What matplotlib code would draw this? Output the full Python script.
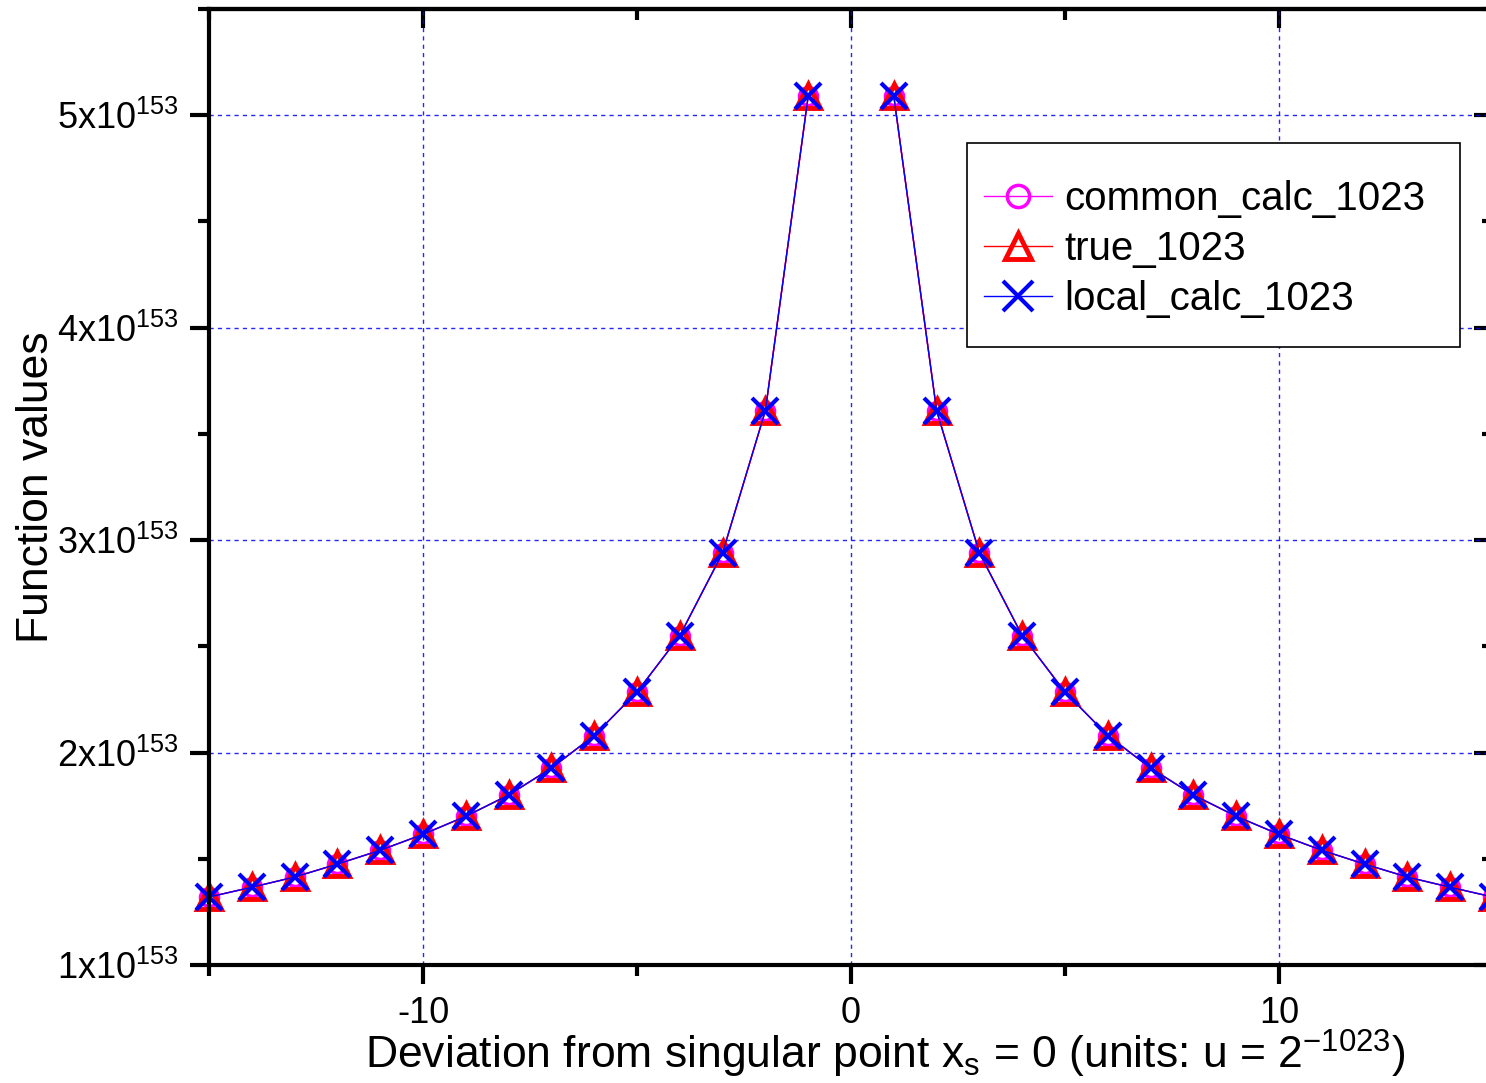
import matplotlib
matplotlib.use("Agg")
import matplotlib.pyplot as plt
from matplotlib.patches import Rectangle
from matplotlib.ticker import MultipleLocator, FuncFormatter

plt.rcParams['font.family'] = ['Liberation Sans', 'DejaVu Sans']
plt.rcParams['mathtext.default'] = 'regular'
plt.rcParams['axes.unicode_minus'] = False

# deviation from singular point (units of u = 2^-1023); no value at x = 0
dev = [-15, -14, -13, -12, -11, -10, -9, -8, -7, -6, -5, -4, -3, -2, -1, 0,
       1, 2, 3, 4, 5, 6, 7, 8, 9, 10, 11, 12, 13, 14, 15]

# function values in units of 1e153
nan = float('nan')
right_half = [5.09, 3.61, 2.94, 2.55, 2.285, 2.08, 1.927, 1.80, 1.70, 1.615,
              1.54, 1.475, 1.414, 1.366, 1.32]
common_calc_1023 = right_half[::-1] + [nan] + right_half
true_1023 = right_half[::-1] + [nan] + right_half
local_calc_1023 = right_half[::-1] + [nan] + right_half

fig = plt.figure(figsize=(14.86, 10.83), dpi=100)
W, H = 1486, 1083
ax = fig.add_axes([209 / W, 1 - 965 / H, (1493 - 209) / W, (965 - 9) / H])

ax.plot(dev, common_calc_1023, color='magenta', lw=1, marker='o', ms=13,
        mfc='none', mec='magenta', mew=2.5, label='common_calc_1023', clip_on=False)
ax.plot(dev, true_1023, color='red', lw=1, marker='^', ms=17,
        mfc='none', mec='red', mew=3.5, label='true_1023', clip_on=False)
ax.plot(dev, local_calc_1023, color='blue', lw=1, marker='x', ms=19,
        mew=3, label='local_calc_1023', clip_on=False)

ax.set_xlim(-15, 15)
ax.set_ylim(1, 5.5)
ax.xaxis.set_major_locator(MultipleLocator(10))
ax.xaxis.set_minor_locator(MultipleLocator(5))
ax.yaxis.set_major_locator(MultipleLocator(1))
ax.yaxis.set_minor_locator(MultipleLocator(0.5))
ax.yaxis.set_major_formatter(FuncFormatter(lambda v, p: '%dx10$^{153}$' % round(v)))

ax.grid(True, which='major', color='blue', lw=1, ls=(0, (3, 3)), alpha=0.85)

for s in ax.spines.values():
    s.set_linewidth(3)

ax.tick_params(axis='both', which='major', length=14, width=3, labelsize=26,
               direction='out', pad=8)
ax.tick_params(axis='both', which='minor', length=8, width=3, direction='out')

# mirrored inward ticks on top and right
axt = ax.secondary_xaxis('top')
axt.xaxis.set_major_locator(MultipleLocator(10))
axt.xaxis.set_minor_locator(MultipleLocator(5))
axt.tick_params(which='major', direction='in', length=14, width=3, labeltop=False)
axt.tick_params(which='minor', direction='in', length=8, width=3)
axr = ax.secondary_yaxis('right')
axr.yaxis.set_major_locator(MultipleLocator(1))
axr.yaxis.set_minor_locator(MultipleLocator(0.5))
axr.tick_params(which='major', direction='in', length=14, width=3, labelright=False)
axr.tick_params(which='minor', direction='in', length=8, width=3)
for a in (axt, axr):
    for s in a.spines.values():
        s.set_linewidth(3)

ax.set_xlabel('Deviation from singular point x$_{s}$ = 0 (units: u = 2$^{-1023}$)',
              fontsize=32)
ax.xaxis.set_label_coords(0.527, -0.066)
ax.set_ylabel('Function values', fontsize=32)
ax.yaxis.set_label_coords(-0.118, 0.5)

# legend frame drawn as a plain box, entries placed inside it
box = Rectangle((967 / W, 1 - 347 / H), (1460 - 967) / W, (347 - 143) / H,
                transform=fig.transFigure, facecolor='white', edgecolor='black',
                lw=1.2, zorder=4.5, clip_on=False)
ax.add_patch(box)
leg = ax.legend(loc='upper left', bbox_to_anchor=(984 / W, 1 - 180 / H),
                bbox_transform=fig.transFigure, borderaxespad=0, borderpad=0,
                frameon=False, fontsize=29, handlelength=1.7, handletextpad=0.3,
                labelspacing=0.3)
# legend symbols are a bit larger than the data markers
for h, ms in zip(leg.legend_handles, (16, 19, 22)):
    h.set_markersize(ms)

fig.savefig('out.png', dpi=100)
